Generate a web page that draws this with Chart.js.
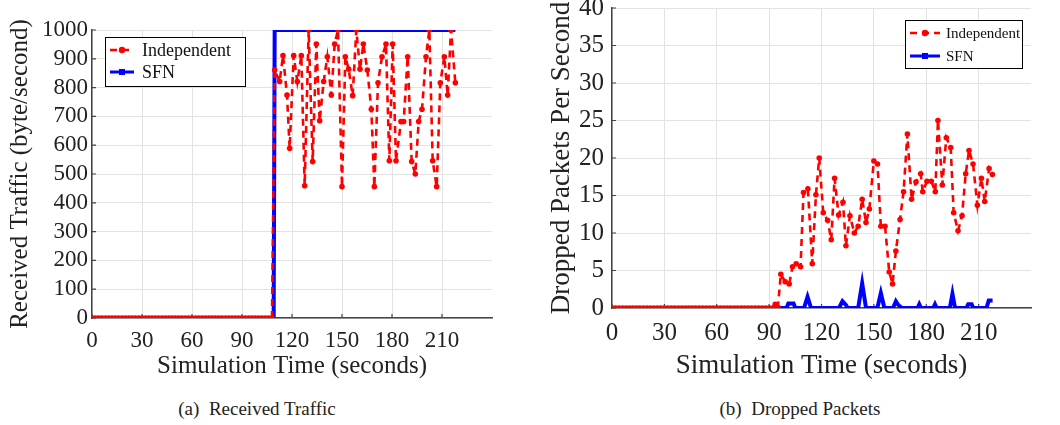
<!DOCTYPE html>
<html>
<head>
<meta charset="utf-8">
<script src="https://cdn.jsdelivr.net/npm/chart.js@4"></script>
<style>
  body { margin: 0; background: #fff; width: 1060px; height: 425px; position: relative; overflow: hidden; }
  canvas { position: absolute; top: 0; }
  #traffic { left: 0; }
  #dropped { left: 530px; }
  .caption { position: absolute; top: 398px; font: 19px "Liberation Serif", serif; color: #222; transform: translateX(-50%); white-space: nowrap; }
</style>
</head>
<body>
<canvas id="traffic" width="530" height="390"></canvas>
<canvas id="dropped" width="530" height="390"></canvas>
<div class="caption" style="left:257px">(a)&nbsp; Received Traffic</div>
<div class="caption" style="left:800px">(b)&nbsp; Dropped Packets</div>
<script>
const xTicks = [0, 30, 60, 90, 120, 150, 180, 210];

// received traffic, Independent (byte/second)
const trafficIndepTime = [0, 2, 4, 6, 8, 10, 12, 14, 16, 18, 20, 22, 24, 26, 28, 30, 32, 34, 36, 38, 40, 42, 44, 46, 48, 50,
  52, 54, 56, 58, 60, 62, 64, 66, 68, 70, 72, 74, 76, 78, 80, 82, 84, 86, 88, 90, 92, 94, 96, 98, 100, 102, 104, 106, 108,
  109.6, 112.6, 114.6, 117, 118.6, 121, 123.2, 125.6, 127.6, 130, 132.4, 134.6, 136.6, 139, 141.2, 143.6, 145.6, 147.6,
  150, 152, 154, 156.4, 158.6, 160.8, 162.8, 165.2, 167.6, 169.4, 171.6, 174, 176.4, 178.4, 180.4, 182.4, 185.4, 187,
  189.4, 191.8, 194, 196, 198, 200.4, 202.4, 204.4, 206.8, 209, 211.4, 213.4, 215.4, 218];
const trafficIndep = [0, 0, 0, 0, 0, 0, 0, 0, 0, 0, 0, 0, 0, 0, 0, 0, 0, 0, 0, 0, 0, 0, 0, 0, 0, 0,
  0, 0, 0, 0, 0, 0, 0, 0, 0, 0, 0, 0, 0, 0, 0, 0, 0, 0, 0, 0, 0, 0, 0, 0, 0, 0, 0, 0, 0,
  861, 821, 911, 774, 589, 911, 821, 911, 459, 1000, 543, 951, 685,
  821, 907, 774, 951, 1000, 456, 907, 864, 772, 1000, 864, 951, 861, 725, 456, 817, 907, 951, 546, 951, 546, 682, 682,
  907, 543, 500, 682, 725, 907, 1000, 546, 456, 817, 907, 774, 1000, 817];

// received traffic, SFN
const trafficSfnTime = [0, 109, 109.6, 218];
const trafficSfn = [0, 0, 1000, 1000];

// dropped packets per second, Independent
const droppedIndepTime = [0, 2, 4, 6, 8, 10, 12, 14, 16, 18, 20, 22, 24, 26, 28, 30, 32, 34, 36, 38, 40, 42, 44, 46, 48, 50,
  52, 54, 56, 58, 60, 62, 64, 66, 68, 70, 72, 74, 76, 78, 80, 82, 84, 86, 88, 90, 92,
  93.5, 95, 96.7, 99.2, 101.5, 103.4, 105.5, 108, 109.7, 112.2, 114.7, 116.8, 118.7, 121, 123.5, 125.6, 127.5, 129.8,
  132.3, 134, 136.3, 138.8, 141, 143.3, 145.5, 147.4, 150, 152.1, 154, 156.4, 158.8, 160.7, 162.6, 165, 167, 169.2,
  171.6, 174.1, 176.8, 178, 180.4, 182.9, 185.2, 186.7, 189.2, 191.5, 194, 195.7, 198.2, 200.5, 202.6, 204.5, 206.8,
  209.3, 211.6, 213.5, 216, 217.9];
const droppedIndep = [0, 0, 0, 0, 0, 0, 0, 0, 0, 0, 0, 0, 0, 0, 0, 0, 0, 0, 0, 0, 0, 0, 0, 0, 0, 0,
  0, 0, 0, 0, 0, 0, 0, 0, 0, 0, 0, 0, 0, 0, 0, 0, 0, 0, 0, 0, 0,
  0.5, 0.1, 4.5, 3.5, 3.2, 5.5, 5.9, 5.5, 15.4, 15.9, 5.9, 15.1, 20, 12.7, 11.7, 9.1, 17.3, 12.4,
  14.1, 8.3, 12.3, 10.0, 10.9, 14.5, 11.4, 13.2, 19.6, 19.2, 10.9, 10.9, 4.8, 3.2, 7.6, 11.8, 15.5, 23.2,
  14.5, 16.8, 17.9, 15.5, 16.9, 16.9, 15.5, 25, 16.4, 22.7, 21.4, 12.7, 10.3, 12.3, 17.9, 21, 19.2,
  13.7, 17.3, 14.2, 18.6, 17.8];

// dropped packets per second, SFN
const droppedSfnTime = [0, 100, 101, 104, 105, 110, 112, 114, 130, 132, 134, 135, 141, 143.3, 145.5, 152, 154, 156,
  161, 162.6, 164, 166, 175, 176, 177, 184, 185, 186, 193.5, 195, 196.5, 203, 204, 206, 207, 214.5, 215.8, 218];
const droppedSfn = [0, 0, 0.6, 0.6, 0, 0, 1.5, 0, 0, 0.9, 0.4, 0, 0, 3.3, 0, 0, 2.0, 0,
  0, 0.9, 0.4, 0, 0, 0.5, 0, 0, 0.5, 0, 0, 1.9, 0, 0, 0.5, 0.5, 0, 0, 1.0, 1.0];

const serif = '"Liberation Serif", "Times New Roman", serif';
const textColor = '#222';

function points(times, values) {
  return times.map((t, i) => ({ x: t, y: values[i] }));
}

// short tick marks pointing into the plot area
const innerTicks = {
  id: 'innerTicks',
  beforeDatasetsDraw(chart) {
    const { ctx, chartArea, scales } = chart;
    ctx.save();
    ctx.strokeStyle = '#444';
    ctx.lineWidth = 1.2;
    ctx.beginPath();
    scales.x.ticks.forEach(t => {
      const px = scales.x.getPixelForValue(t.value);
      ctx.moveTo(px, chartArea.bottom);
      ctx.lineTo(px, chartArea.bottom - 4);
    });
    scales.y.ticks.forEach(t => {
      const py = scales.y.getPixelForValue(t.value);
      ctx.moveTo(chartArea.left, py);
      ctx.lineTo(chartArea.left + 4, py);
    });
    ctx.stroke();
    ctx.restore();
  }
};

// boxed legend placed inside the plot
const boxLegend = {
  id: 'boxLegend',
  afterDraw(chart, args, opts) {
    const { ctx } = chart;
    ctx.save();
    ctx.fillStyle = '#fff';
    ctx.fillRect(opts.x, opts.y, opts.w, opts.h);
    ctx.strokeStyle = '#000';
    ctx.lineWidth = 1;
    ctx.strokeRect(opts.x + 0.5, opts.y + 0.5, opts.w, opts.h);
    chart.data.datasets.forEach((ds, i) => {
      const y = opts.y + opts.rowTop + i * opts.rowGap;
      const x0 = opts.x + 5, x1 = x0 + opts.sample;
      ctx.strokeStyle = ds.borderColor;
      ctx.lineWidth = ds.legendWidth;
      ctx.setLineDash(ds.borderDash || []);
      ctx.beginPath();
      ctx.moveTo(x0, y);
      ctx.lineTo(x1, y);
      ctx.stroke();
      ctx.setLineDash([]);
      ctx.fillStyle = ds.borderColor;
      const mx = (x0 + x1) / 2;
      if (ds.legendMarker === 'rect') {
        ctx.fillRect(mx - 3, y - 3, 6, 6);
      } else {
        ctx.beginPath();
        ctx.arc(mx, y, 3.2, 0, Math.PI * 2);
        ctx.fill();
      }
      ctx.fillStyle = '#111';
      ctx.font = opts.fontSize + 'px ' + serif;
      ctx.textBaseline = 'middle';
      ctx.fillText(ds.label, x1 + opts.textGap, y + 1);
    });
    ctx.restore();
  }
};

function makeChart(id, cfg) {
  return new Chart(document.getElementById(id), {
    type: 'line',
    data: {
      datasets: [{
        label: 'Independent',
        data: points(cfg.indepTime, cfg.indep),
        borderColor: '#ff0000',
        backgroundColor: '#ff0000',
        borderWidth: 2.6,
        borderDash: [7, 5],
        pointRadius: 2.8,
        pointBorderWidth: 0,
        legendWidth: 2.6,
        tension: 0
      }, {
        label: 'SFN',
        data: points(cfg.sfnTime, cfg.sfn),
        borderColor: '#0000ff',
        backgroundColor: '#0000ff',
        borderWidth: 4,
        pointRadius: 0,
        legendWidth: 3,
        legendMarker: 'rect',
        tension: 0
      }]
    },
    options: {
      responsive: false,
      animation: false,
      events: [],
      layout: { padding: cfg.padding },
      plugins: {
        legend: { display: false },
        tooltip: { enabled: false },
        boxLegend: cfg.legend
      },
      scales: {
        x: {
          type: 'linear',
          min: 0,
          max: 240,
          afterBuildTicks: axis => { axis.ticks = xTicks.map(v => ({ value: v })); },
          afterFit: s => { s.height = cfg.xHeight; s.paddingLeft = 0; s.paddingRight = 0; },
          grid: { color: '#e2e2e2', lineWidth: 1, drawTicks: false },
          border: { color: '#444', width: 1.5 },
          ticks: { color: textColor, font: { family: serif, size: cfg.tickSize }, padding: cfg.xTickPad,
            maxRotation: 0, autoSkip: false, callback: v => String(v) },
          title: { display: true, text: 'Simulation Time (seconds)', color: textColor,
            font: { family: serif, size: cfg.titleSize }, padding: { top: 0, bottom: cfg.xTitlePad } }
        },
        y: {
          min: 0,
          max: cfg.yMax,
          afterFit: s => { s.width = cfg.yWidth; s.paddingTop = 0; s.paddingBottom = 0; },
          ticks: { stepSize: cfg.yStep, color: textColor, font: { family: serif, size: cfg.tickSize },
            padding: cfg.yTickPad, autoSkip: false, callback: v => String(v) },
          grid: { color: '#e2e2e2', lineWidth: 1, drawTicks: false },
          border: { color: '#444', width: 1.5 },
          title: { display: true, text: cfg.yTitle, color: textColor,
            font: { family: serif, size: cfg.yTitleSize }, padding: { top: cfg.yTitlePad, bottom: 0 } }
        }
      }
    },
    plugins: [innerTicks, boxLegend]
  });
}

makeChart('traffic', {
  indepTime: trafficIndepTime, indep: trafficIndep,
  sfnTime: trafficSfnTime, sfn: trafficSfn,
  padding: { left: 0, top: 30, right: 38, bottom: 0 },
  yWidth: 92, xHeight: 72,
  yMax: 1000, yStep: 100,
  yTitle: 'Received Traffic (byte/second)',
  tickSize: 23, titleSize: 25, yTitleSize: 25,
  xTickPad: 9, yTickPad: 4, xTitlePad: 9, yTitlePad: 5,
  legend: { x: 105, y: 37, w: 140, h: 49, rowTop: 13, rowGap: 22, sample: 24, textGap: 8, fontSize: 18 }
});

makeChart('dropped', {
  indepTime: droppedIndepTime, indep: droppedIndep,
  sfnTime: droppedSfnTime, sfn: droppedSfn,
  padding: { left: 0, top: 8, right: 29, bottom: 0 },
  yWidth: 82, xHeight: 82,
  yMax: 40, yStep: 5,
  yTitle: 'Dropped Packets Per Second',
  tickSize: 25, titleSize: 27, yTitleSize: 27,
  xTickPad: 10, yTickPad: 8, xTitlePad: 8, yTitlePad: 16,
  legend: { x: 375, y: 20, w: 117, h: 48, rowTop: 13, rowGap: 23, sample: 30, textGap: 6, fontSize: 15 }
});
</script>
</body>
</html>
